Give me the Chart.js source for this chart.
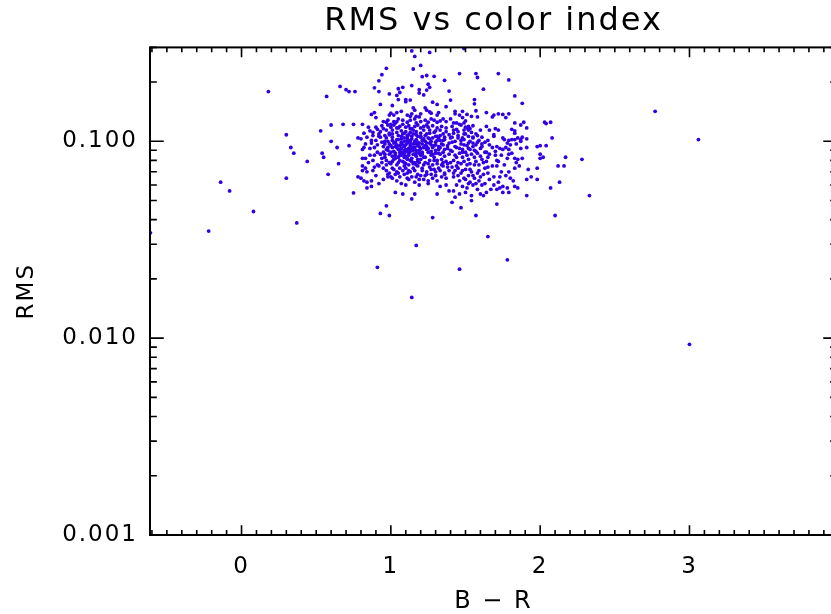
<!DOCTYPE html>
<html>
<head>
<meta charset="utf-8">
<script src="https://cdn.jsdelivr.net/npm/chart.js@4.4.1/dist/chart.umd.min.js"></script>
<style>
  html, body { margin: 0; padding: 0; background: #fff; overflow: hidden; }
</style>
</head>
<body>
<canvas id="rmsChart" width="845" height="614"></canvas>
<script>
// Points, as [B - R, RMS] pairs.
const outlierPoints = [
  [-0.61, 0.0343], [-0.22, 0.035], [-0.14, 0.062], [-0.08, 0.056], [0.08, 0.044],
  [0.18, 0.179], [0.30, 0.108], [0.30, 0.065], [0.33, 0.093], [0.35, 0.087],
  [0.37, 0.0385], [0.44, 0.079], [0.53, 0.113], [0.54, 0.087], [0.55, 0.083],
  [0.57, 0.169], [0.58, 0.068], [0.60, 0.100], [0.60, 0.121], [0.64, 0.093],
  [0.65, 0.077], [0.66, 0.190], [0.68, 0.122], [0.70, 0.183], [0.72, 0.179],
  [0.72, 0.095], [0.75, 0.122], [0.76, 0.179], [0.75, 0.0547], [0.78, 0.104],
  [0.81, 0.122], [0.91, 0.0229], [0.93, 0.043], [0.97, 0.047], [0.99, 0.042],
  [1.14, 0.0161], [1.17, 0.0296], [1.28, 0.041], [1.46, 0.0224], [1.57, 0.042],
  [1.65, 0.0328], [1.78, 0.025], [2.10, 0.042], [2.33, 0.053], [2.28, 0.081],
  [2.17, 0.083], [2.77, 0.142], [3.06, 0.102], [3.00, 0.0093]
];

const upperPoints = [
  [1.14, 0.288], [1.16, 0.270], [1.26, 0.283], [1.49, 0.296], [0.97, 0.235],
  [1.15, 0.233], [1.20, 0.243], [0.94, 0.218], [0.92, 0.203], [1.21, 0.213],
  [1.24, 0.216], [1.29, 0.214], [1.36, 0.204], [1.46, 0.221], [1.57, 0.221],
  [1.58, 0.211], [1.72, 0.221], [1.79, 0.205], [1.62, 0.184], [1.83, 0.170],
  [1.40, 0.162], [1.56, 0.163], [1.56, 0.155], [1.88, 0.156], [0.89, 0.187],
  [0.92, 0.179], [0.99, 0.174], [1.05, 0.185], [1.08, 0.188], [1.04, 0.171],
  [1.06, 0.177], [1.14, 0.192], [1.19, 0.183], [1.19, 0.176], [1.22, 0.172],
  [1.25, 0.195], [1.26, 0.188], [1.24, 0.182], [1.39, 0.180], [1.10, 0.163],
  [1.13, 0.162], [1.10, 0.159], [1.05, 0.163], [0.93, 0.154], [1.01, 0.152],
  [1.28, 0.158], [1.31, 0.154], [1.37, 0.150], [1.15, 0.148], [1.16, 0.144],
  [1.23, 0.148], [1.24, 0.144], [1.26, 0.141], [1.27, 0.139], [1.32, 0.140],
  [1.31, 0.136], [1.07, 0.142], [1.04, 0.140], [1.00, 0.139], [1.02, 0.136],
  [0.99, 0.136], [0.89, 0.140], [0.87, 0.137], [0.90, 0.132], [1.11, 0.136],
  [1.13, 0.134], [1.14, 0.138], [1.17, 0.134], [1.20, 0.138], [1.19, 0.133],
  [1.57, 0.143], [1.43, 0.142], [1.43, 0.138], [1.48, 0.142], [1.46, 0.136],
  [1.48, 0.132], [1.51, 0.137], [1.54, 0.134], [1.58, 0.133], [1.64, 0.140],
  [1.68, 0.133], [1.69, 0.136], [1.72, 0.138], [1.75, 0.137], [1.79, 0.138],
  [1.77, 0.132], [1.89, 0.125], [1.87, 0.121], [1.91, 0.117], [2.03, 0.125],
  [2.04, 0.123], [2.07, 0.125], [2.08, 0.104], [1.83, 0.124]
];

const corePoints = [
  [0.95, 0.126], [0.97, 0.125], [0.98, 0.128], [1.00, 0.122], [1.02, 0.126],
  [1.04, 0.126], [1.05, 0.130], [1.08, 0.128], [1.11, 0.125], [1.13, 0.128],
  [1.16, 0.130], [1.17, 0.124], [1.20, 0.126], [1.23, 0.128], [1.25, 0.125],
  [1.27, 0.130], [1.29, 0.128], [1.31, 0.125], [1.33, 0.127], [1.35, 0.130],
  [1.37, 0.126], [0.88, 0.111], [0.91, 0.115], [0.92, 0.106], [0.95, 0.116],
  [0.97, 0.114], [0.99, 0.110], [1.01, 0.114], [1.04, 0.111], [1.05, 0.117],
  [1.07, 0.106], [1.09, 0.110], [1.11, 0.107], [1.13, 0.116], [1.15, 0.109],
  [1.17, 0.112], [1.20, 0.106], [1.22, 0.114], [1.24, 0.109], [1.26, 0.114],
  [1.29, 0.111], [1.31, 0.106], [1.33, 0.114], [1.35, 0.109], [1.37, 0.112],
  [0.88, 0.107], [0.90, 0.101], [0.93, 0.105], [0.96, 0.107], [0.87, 0.098],
  [1.04, 0.096], [1.07, 0.099], [1.11, 0.104], [1.14, 0.106], [1.17, 0.102],
  [1.20, 0.105], [1.23, 0.100], [1.26, 0.103], [1.30, 0.106], [1.33, 0.101],
  [1.36, 0.105], [1.39, 0.098], [0.98, 0.100], [1.01, 0.105], [0.82, 0.093],
  [0.81, 0.091], [0.89, 0.093], [0.91, 0.088], [0.83, 0.082], [0.81, 0.082],
  [0.86, 0.085], [0.88, 0.080], [0.91, 0.076], [0.94, 0.082], [0.96, 0.086],
  [0.98, 0.090], [1.01, 0.093], [1.06, 0.091], [1.09, 0.087], [1.12, 0.092],
  [1.15, 0.086], [1.17, 0.090], [1.21, 0.086], [1.24, 0.091], [1.27, 0.085],
  [1.30, 0.090], [1.33, 0.086], [1.36, 0.091], [1.39, 0.086], [1.03, 0.082],
  [1.11, 0.081], [1.18, 0.079], [1.29, 0.080], [0.99, 0.078], [1.15, 0.077],
  [1.35, 0.078], [0.81, 0.075], [0.83, 0.073], [0.81, 0.071], [0.84, 0.070],
  [0.89, 0.074], [0.92, 0.075], [0.95, 0.073], [0.97, 0.071], [0.98, 0.068],
  [1.01, 0.073], [1.04, 0.070], [1.06, 0.073], [1.09, 0.075], [1.12, 0.071],
  [1.15, 0.073], [1.18, 0.075], [1.21, 0.073], [1.24, 0.070], [1.26, 0.074],
  [1.29, 0.072], [1.32, 0.073], [1.35, 0.075], [1.38, 0.074], [0.78, 0.066],
  [0.80, 0.065], [0.82, 0.063], [0.84, 0.062], [0.87, 0.063], [0.92, 0.061],
  [0.95, 0.064], [0.98, 0.066], [1.01, 0.065], [1.04, 0.063], [1.07, 0.061],
  [1.10, 0.060], [1.11, 0.065], [1.14, 0.066], [1.17, 0.066], [1.20, 0.067],
  [1.22, 0.064], [1.25, 0.063], [1.28, 0.065], [1.31, 0.063], [1.34, 0.066],
  [1.37, 0.065], [1.36, 0.068], [0.84, 0.058], [0.87, 0.059], [1.03, 0.055],
  [1.08, 0.054], [1.14, 0.051], [1.16, 0.054], [1.19, 0.060], [1.25, 0.061],
  [1.31, 0.054], [1.33, 0.059], [1.37, 0.060], [1.39, 0.056],
  [1.00, 0.118], [1.02, 0.121], [1.04, 0.117], [1.06, 0.119], [1.08, 0.122],
  [1.10, 0.118], [1.12, 0.120], [1.14, 0.116], [1.16, 0.119], [1.18, 0.121],
  [1.20, 0.117], [1.22, 0.119], [1.25, 0.118], [1.28, 0.120], [1.31, 0.117],
  [1.34, 0.119], [0.96, 0.100], [0.99, 0.097], [1.01, 0.101], [1.03, 0.099],
  [1.05, 0.102], [1.07, 0.097], [1.09, 0.100], [1.11, 0.098], [1.13, 0.101],
  [1.15, 0.097], [1.18, 0.099], [1.21, 0.097], [1.24, 0.098], [1.27, 0.096],
  [1.30, 0.099], [1.35, 0.096], [0.95, 0.094], [0.97, 0.091], [1.00, 0.095],
  [1.02, 0.089], [1.04, 0.093], [1.07, 0.088], [1.09, 0.094], [1.11, 0.089],
  [1.13, 0.095], [1.16, 0.093], [1.19, 0.090], [1.22, 0.093], [1.25, 0.088],
  [1.28, 0.093], [1.32, 0.094], [1.38, 0.092], [0.93, 0.086], [0.96, 0.083],
  [0.99, 0.086], [1.01, 0.084], [1.03, 0.087], [1.05, 0.083], [1.07, 0.085],
  [1.10, 0.084], [1.12, 0.087], [1.14, 0.082], [1.17, 0.084], [1.19, 0.087],
  [1.23, 0.083], [1.26, 0.088], [1.29, 0.083], [1.32, 0.087], [1.36, 0.084],
  [0.94, 0.078], [0.97, 0.080], [1.00, 0.077], [1.02, 0.081], [1.05, 0.078],
  [1.08, 0.079], [1.10, 0.077], [1.13, 0.080], [1.16, 0.078], [1.20, 0.081],
  [1.23, 0.078], [1.26, 0.080], [1.31, 0.077], [1.34, 0.081], [1.37, 0.079],
  [1.00, 0.066], [1.03, 0.068], [1.06, 0.066], [1.09, 0.068], [1.12, 0.064],
  [1.16, 0.062], [1.19, 0.064], [1.23, 0.067], [1.27, 0.068], [1.30, 0.067],
  [0.86, 0.113], [0.84, 0.105], [0.86, 0.092], [0.85, 0.078], [0.88, 0.071],
  [0.90, 0.067], [0.87, 0.101], [0.90, 0.118], [0.91, 0.096], [0.92, 0.109],
  [0.94, 0.120], [0.89, 0.085], [0.82, 0.110], [0.85, 0.118], [0.80, 0.103],
  [0.83, 0.097]
];

const densePoints = [
  [0.93, 0.112], [0.96, 0.097], [0.98, 0.121], [1.00, 0.088], [1.01, 0.109],
  [1.03, 0.094], [1.03, 0.124], [1.05, 0.107], [1.06, 0.085], [1.07, 0.113],
  [1.08, 0.096], [1.09, 0.104], [1.10, 0.091], [1.10, 0.112], [1.11, 0.082],
  [1.12, 0.099], [1.12, 0.108], [1.13, 0.089], [1.14, 0.103], [1.15, 0.093],
  [1.15, 0.114], [1.16, 0.086], [1.17, 0.097], [1.18, 0.106], [1.18, 0.081],
  [1.19, 0.094], [1.20, 0.110], [1.21, 0.088], [1.21, 0.101], [1.22, 0.083],
  [1.23, 0.107], [1.23, 0.095], [1.24, 0.121], [1.25, 0.092], [1.26, 0.098],
  [1.26, 0.110], [1.27, 0.089], [1.28, 0.104], [1.29, 0.095], [1.30, 0.087],
  [1.30, 0.113], [1.31, 0.101], [1.32, 0.091], [1.33, 0.107], [1.34, 0.097],
  [1.35, 0.088], [1.36, 0.102], [1.37, 0.117], [1.38, 0.095], [1.39, 0.108],
  [1.40, 0.090], [1.41, 0.099], [1.42, 0.110], [1.43, 0.094], [1.44, 0.083],
  [1.45, 0.107], [1.46, 0.092], [1.47, 0.101], [1.48, 0.088], [1.49, 0.096],
  [1.50, 0.109], [1.51, 0.085], [1.52, 0.098], [1.53, 0.091], [1.54, 0.111],
  [1.55, 0.094], [1.56, 0.076], [1.57, 0.089], [1.58, 0.099], [1.59, 0.071],
  [0.97, 0.076], [0.99, 0.069], [1.01, 0.079], [1.02, 0.072], [1.04, 0.076],
  [1.05, 0.069], [1.06, 0.080], [1.08, 0.071], [1.09, 0.078], [1.10, 0.073],
  [1.11, 0.069], [1.12, 0.076], [1.13, 0.070], [1.14, 0.079], [1.16, 0.071],
  [1.17, 0.076], [1.18, 0.068], [1.19, 0.078], [1.21, 0.071], [1.22, 0.076],
  [1.24, 0.068], [1.25, 0.077], [1.27, 0.072], [1.28, 0.076], [1.30, 0.070],
  [1.31, 0.080], [1.33, 0.071], [1.34, 0.076], [1.36, 0.069], [1.38, 0.077],
  [1.39, 0.071], [1.40, 0.078], [1.42, 0.069], [1.44, 0.075], [1.45, 0.067],
  [1.47, 0.077], [1.48, 0.071], [1.50, 0.064], [1.51, 0.076], [1.53, 0.072],
  [1.04, 0.102], [1.06, 0.095], [1.08, 0.109], [1.09, 0.090], [1.11, 0.101],
  [1.13, 0.111], [1.14, 0.092], [1.16, 0.100], [1.17, 0.108], [1.19, 0.098],
  [1.20, 0.092], [1.22, 0.103], [1.24, 0.094], [1.25, 0.104], [1.27, 0.100],
  [1.28, 0.086], [1.30, 0.096], [1.32, 0.104], [1.33, 0.093], [1.35, 0.101],
  [1.06, 0.088], [1.07, 0.092], [1.09, 0.083], [1.10, 0.096], [1.12, 0.085],
  [1.13, 0.098], [1.15, 0.090], [1.17, 0.087], [1.18, 0.095], [1.20, 0.085],
  [1.02, 0.098], [1.03, 0.085], [1.05, 0.091], [1.07, 0.103], [1.08, 0.086],
  [0.98, 0.093], [0.97, 0.104], [0.95, 0.088], [0.94, 0.099], [0.99, 0.108],
  [1.41, 0.119], [1.44, 0.115], [1.47, 0.121], [1.49, 0.109], [1.52, 0.114],
  [1.55, 0.098], [1.58, 0.107], [1.61, 0.097], [1.63, 0.088], [1.66, 0.096],
  [1.62, 0.078], [1.65, 0.083], [1.68, 0.075], [1.70, 0.089], [1.72, 0.079],
  [1.75, 0.091], [1.76, 0.076], [1.78, 0.098], [1.81, 0.087], [1.84, 0.078],
  [1.60, 0.066], [1.63, 0.061], [1.66, 0.064], [1.69, 0.060], [1.72, 0.062],
  [1.75, 0.059], [1.58, 0.057], [1.62, 0.053], [1.55, 0.067], [1.52, 0.061]
];

const rightPoints = [
  [1.40, 0.130], [1.42, 0.124], [1.44, 0.124], [1.46, 0.122], [1.49, 0.124],
  [1.50, 0.127], [1.52, 0.119], [1.55, 0.120], [1.50, 0.118], [1.51, 0.117],
  [1.42, 0.114], [1.45, 0.112], [1.49, 0.114], [1.53, 0.116], [1.57, 0.109],
  [1.60, 0.114], [1.64, 0.119], [1.66, 0.114], [1.69, 0.108], [1.70, 0.116],
  [1.72, 0.114], [1.81, 0.115], [1.83, 0.113], [1.85, 0.104], [1.88, 0.105],
  [1.91, 0.103], [1.40, 0.104], [1.48, 0.104], [1.52, 0.106], [1.55, 0.105],
  [1.61, 0.105], [1.76, 0.102], [1.83, 0.110], [1.81, 0.102], [1.87, 0.102],
  [1.69, 0.106], [1.75, 0.104], [1.79, 0.101], [1.83, 0.102], [1.87, 0.100],
  [1.68, 0.093], [1.71, 0.094], [1.73, 0.092], [1.77, 0.093], [1.80, 0.096],
  [1.79, 0.091], [1.84, 0.097], [1.87, 0.092], [1.91, 0.093], [1.98, 0.094],
  [2.00, 0.095], [2.04, 0.095], [1.64, 0.088], [1.66, 0.086], [1.70, 0.085],
  [1.74, 0.085], [1.79, 0.086], [1.83, 0.082], [1.85, 0.081], [1.88, 0.082],
  [2.00, 0.086], [2.02, 0.083], [2.00, 0.082], [1.61, 0.081], [1.64, 0.079],
  [1.71, 0.080], [1.78, 0.082], [1.63, 0.073], [1.65, 0.074], [1.71, 0.075],
  [1.74, 0.070], [1.79, 0.070], [1.83, 0.073], [1.86, 0.075], [1.92, 0.072],
  [1.98, 0.073], [2.12, 0.075], [2.16, 0.075], [1.62, 0.068], [1.65, 0.069],
  [1.69, 0.066], [1.73, 0.066], [1.77, 0.067], [1.80, 0.065], [1.82, 0.063],
  [1.91, 0.064], [1.94, 0.066], [1.98, 0.064], [2.13, 0.062], [1.61, 0.060],
  [1.67, 0.057], [1.64, 0.055], [1.71, 0.057], [1.73, 0.058], [1.75, 0.055],
  [1.78, 0.058], [1.79, 0.055], [1.83, 0.059], [1.85, 0.058], [2.07, 0.058],
  [1.91, 0.053], [1.54, 0.050], [1.47, 0.046], [1.71, 0.048], [1.41, 0.049],
  [1.41, 0.105], [1.43, 0.100], [1.45, 0.104], [1.47, 0.097], [1.49, 0.102],
  [1.51, 0.095], [1.53, 0.100], [1.55, 0.104], [1.57, 0.096], [1.59, 0.101],
  [1.61, 0.094], [1.63, 0.099], [1.44, 0.093], [1.48, 0.091], [1.52, 0.092],
  [1.56, 0.090], [1.60, 0.092], [1.65, 0.101], [1.41, 0.089], [1.43, 0.085],
  [1.46, 0.087], [1.48, 0.083], [1.50, 0.088], [1.52, 0.081], [1.54, 0.086],
  [1.56, 0.083], [1.58, 0.087], [1.60, 0.084], [1.42, 0.080], [1.45, 0.078],
  [1.49, 0.079], [1.53, 0.077], [1.57, 0.079], [1.59, 0.076], [1.41, 0.074],
  [1.43, 0.071], [1.45, 0.073], [1.47, 0.069], [1.50, 0.072], [1.52, 0.067],
  [1.54, 0.070], [1.56, 0.065], [1.58, 0.069], [1.42, 0.066], [1.46, 0.063],
  [1.49, 0.065], [1.53, 0.062], [1.57, 0.061], [1.44, 0.060], [1.48, 0.059],
  [1.51, 0.058], [1.55, 0.060], [1.59, 0.063], [1.42, 0.056], [1.46, 0.054],
  [1.50, 0.055], [1.54, 0.053], [1.43, 0.052], [1.60, 0.054]
];

const xTicks = [0, 1, 2, 3];
const yTicks = [0.001, 0.01, 0.1];

const allPoints = [...outlierPoints, ...upperPoints, ...corePoints, ...densePoints, ...rightPoints]
  .map(([x, y]) => ({ x, y }));

// IDL style box: frame plus inward major/minor ticks on all four sides.
const idlFrame = {
  id: 'idlFrame',
  beforeUpdate(chart) { chart.ctx.letterSpacing = '2px'; },
  beforeDraw(chart) { chart.ctx.letterSpacing = '2px'; },
  afterDatasetsDraw(chart) {
    const { ctx, chartArea: a, scales: { x, y } } = chart;
    const xLen = 0.02 * (a.bottom - a.top);
    const yLen = 0.02 * (a.right - a.left);
    ctx.save();
    ctx.strokeStyle = '#000';
    ctx.lineWidth = 1.6;
    ctx.beginPath();
    for (let i = -6; i <= 39; i++) {
      const px = x.getPixelForValue(i / 10);
      const len = i % 10 === 0 ? xLen : xLen / 2;
      ctx.moveTo(px, a.bottom); ctx.lineTo(px, a.bottom - len);
      ctx.moveTo(px, a.top); ctx.lineTo(px, a.top + len);
    }
    for (let d = -3; d <= -1; d++) {
      for (let m = 1; m <= 9; m++) {
        const v = m * Math.pow(10, d);
        if (v > y.max * 1.0001) break;
        const py = y.getPixelForValue(v);
        const len = m === 1 ? yLen : yLen / 2;
        ctx.moveTo(a.left, py); ctx.lineTo(a.left + len, py);
        ctx.moveTo(a.right, py); ctx.lineTo(a.right - len, py);
      }
    }
    ctx.stroke();
    ctx.lineWidth = 2;
    ctx.strokeRect(a.left, a.top, a.right - a.left, a.bottom - a.top);
    ctx.restore();
  }
};

const font = { family: 'DejaVu Sans', size: 23, weight: 'normal' };

new Chart(document.getElementById('rmsChart'), {
  type: 'scatter',
  data: {
    datasets: [{
      data: allPoints,
      backgroundColor: '#3300e6',
      borderWidth: 0,
      pointRadius: 1.9,
      pointHoverRadius: 1.9
    }]
  },
  options: {
    responsive: false,
    animation: false,
    layout: { padding: { left: 0, right: 8, top: 0, bottom: 0 } },
    plugins: {
      legend: { display: false },
      tooltip: { enabled: false },
      title: {
        display: true,
        fullSize: false,
        text: 'RMS vs color index',
        color: '#000',
        font: { family: 'DejaVu Sans', size: 32, weight: 'normal' },
        padding: { top: 2, bottom: 7 }
      }
    },
    scales: {
      x: {
        type: 'linear',
        min: -0.613,
        max: 3.988,
        grid: { display: false, drawTicks: false },
        border: { display: false },
        afterBuildTicks: s => { s.ticks = xTicks.map(v => ({ value: v })); },
        afterFit: s => { s.height = 79; },
        ticks: { color: '#000', font, padding: 18, callback: v => String(v) },
        title: {
          display: true, text: 'B − R', color: '#000',
          font: { family: 'DejaVu Sans', size: 24, weight: 'normal', lineHeight: 1.0 },
          padding: { top: 0, bottom: 0 }
        }
      },
      y: {
        type: 'logarithmic',
        min: 0.001,
        max: 0.3,
        grid: { display: false, drawTicks: false },
        border: { display: false },
        afterBuildTicks: s => { s.ticks = yTicks.map(v => ({ value: v })); },
        afterFit: s => { s.width = 150; },
        ticks: { color: '#000', font, padding: 12, callback: v => Number(v).toFixed(3) },
        title: { display: true, text: 'RMS', color: '#000', font, padding: { top: 13, bottom: 0 } }
      }
    }
  },
  plugins: [idlFrame]
});
</script>
</body>
</html>
